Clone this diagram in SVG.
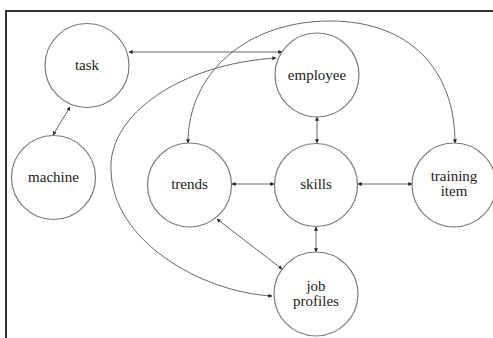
<svg xmlns="http://www.w3.org/2000/svg" width="493" height="338" viewBox="0 0 493 338">
<style>
.node circle{fill:#fff;stroke:#7a7a7a;stroke-width:1.2}
.node text{font-family:"Liberation Serif","Times New Roman",serif;font-size:15px;fill:#222;text-anchor:middle}
.edges path,.edges line{fill:none;stroke:#666;stroke-width:1;marker-start:url(#a);marker-end:url(#a)}
</style>
<defs>
<marker id="a" viewBox="0 0 6 6" refX="5.5" refY="3" markerWidth="4" markerHeight="4" orient="auto-start-reverse" markerUnits="userSpaceOnUse">
<path d="M0,0 L6,3 L0,6 z" fill="#222"/>
</marker>
</defs>
<rect width="493" height="338" fill="#fff"/>
<path d="M6,338 V11 H493" fill="none" stroke="#333" stroke-width="2"/>
<g class="edges">
<line x1="129" y1="52" x2="282" y2="52"/>
<line x1="70" y1="107" x2="53" y2="135"/>
<path d="M276,58 C180,64 108,115 111,170 C112,240 200,292 272,296"/>
<path d="M188,143 C188,72 248,21 330,21 C410,21 455,70 455,143"/>
<line x1="317" y1="117" x2="317" y2="143"/>
<line x1="232" y1="184" x2="274" y2="184"/>
<line x1="358" y1="184" x2="412" y2="184"/>
<line x1="316" y1="227" x2="316" y2="252"/>
<line x1="217" y1="219" x2="282" y2="269"/>
</g>
<g id="task" class="node"><circle cx="87" cy="65.5" r="42"/><text x="87" y="70">task</text></g>
<g id="machine" class="node"><circle cx="53.5" cy="177.5" r="42"/><text x="53.5" y="182">machine</text></g>
<g id="employee" class="node"><circle cx="317" cy="75" r="42"/><text x="317" y="80">employee</text></g>
<g id="trends" class="node"><circle cx="189.5" cy="185" r="42"/><text x="189.5" y="189">trends</text></g>
<g id="skills" class="node"><circle cx="316" cy="185" r="41.5"/><text x="316" y="189">skills</text></g>
<g id="training" class="node"><circle cx="454" cy="185" r="42"/><text x="454" y="181">training</text><text x="454" y="196">item</text></g>
<g id="jobprofiles" class="node"><circle cx="316" cy="294" r="42"/><text x="316" y="291">job</text><text x="316" y="306">profiles</text></g>
</svg>
